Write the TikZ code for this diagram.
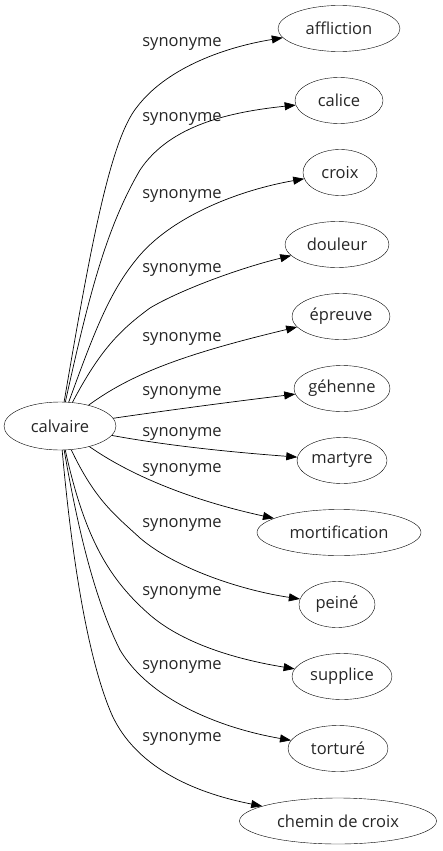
\documentclass[tikz,border=0pt]{standalone}
\usepackage{fontspec}
\setmainfont{Open Sans}
\usetikzlibrary{arrows.meta,shapes.geometric}
\begin{document}
\begin{tikzpicture}[x=1pt,y=-1pt,
  term/.style={draw,ellipse,minimum height=46pt,inner sep=0pt,font=\fontsize{16.5}{18}\selectfont,text=black!85},
  lab/.style={font=\fontsize{16.5}{18}\selectfont,text=black!85,inner sep=0pt},
  edge/.style={draw,line width=0.7pt,-{Triangle[length=11pt,width=8pt]}}]
\useasboundingbox (0,0) rectangle (442,851);
\node[term,minimum width=112pt,minimum height=48pt] (calvaire) at (60,426) {calvaire};
\node[term,minimum width=122pt] (t1) at (339,28.5) {affliction};
\node[term,minimum width=88pt] (t2) at (339,100.5) {calice};
\node[term,minimum width=74pt] (t3) at (340,172.5) {croix};
\node[term,minimum width=104pt] (t4) at (337,244.5) {douleur};
\node[term,minimum width=98pt] (t5) at (341,316.5) {épreuve};
\node[term,minimum width=96pt] (t6) at (342,388.5) {géhenne};
\node[term,minimum width=90pt] (t7) at (342,460.5) {martyre};
\node[term,minimum width=164pt] (t8) at (339,532.5) {mortification};
\node[term,minimum width=76pt] (t9) at (337,604.5) {peiné};
\node[term,minimum width=100pt] (t10) at (342,676.5) {supplice};
\node[term,minimum width=100pt] (t11) at (338,748.5) {torturé};
\node[term,minimum width=197pt] (t12) at (338,821) {chemin de croix};
\node[lab] (l1) at (182,44) {synonyme};
\node[lab] (l2) at (182,119) {synonyme};
\node[lab] (l3) at (182,196) {synonyme};
\node[lab] (l4) at (182,270) {synonyme};
\node[lab] (l5) at (182,339) {synonyme};
\node[lab] (l6) at (182,393) {synonyme};
\node[lab] (l7) at (182,434) {synonyme};
\node[lab] (l8) at (182,470) {synonyme};
\node[lab] (l9) at (182,525) {synonyme};
\node[lab] (l10) at (182,593) {synonyme};
\node[lab] (l11) at (182,667) {synonyme};
\node[lab] (l12) at (182,739) {synonyme};
\draw[edge] (calvaire) .. controls (90,250) and (110,140) .. (137,107) .. controls (165,70) and (220,48) .. (t1);
\draw[edge] (calvaire) .. controls (88,300) and (105,230) .. (140,170) .. controls (170,125) and (230,112) .. (t2);
\draw[edge] (calvaire) .. controls (95,330) and (110,290) .. (140,255) .. controls (175,215) and (240,190) .. (t3);
\draw[edge] (calvaire) .. controls (100,350) and (120,330) .. (150,308) .. controls (180,290) and (240,268) .. (t4);
\draw[edge] (calvaire) .. controls (130,375) and (180,355) .. (t5);
\draw[edge] (calvaire) .. controls (170,410) and (230,402) .. (t6);
\draw[edge] (calvaire) .. controls (170,446) and (230,452) .. (t7);
\draw[edge] (calvaire) .. controls (130,475) and (190,500) .. (t8);
\draw[edge] (calvaire) .. controls (95,500) and (115,515) .. (140,538) .. controls (175,568) and (240,590) .. (t9);
\draw[edge] (calvaire) .. controls (85,540) and (110,580) .. (150,615) .. controls (185,645) and (240,660) .. (t10);
\draw[edge] (calvaire) .. controls (78,530) and (95,600) .. (120,650) .. controls (150,700) and (220,728) .. (t11);
\draw[edge] (calvaire) .. controls (72,560) and (88,660) .. (112,715) .. controls (135,765) and (190,792) .. (t12);
\end{tikzpicture}
\end{document}
